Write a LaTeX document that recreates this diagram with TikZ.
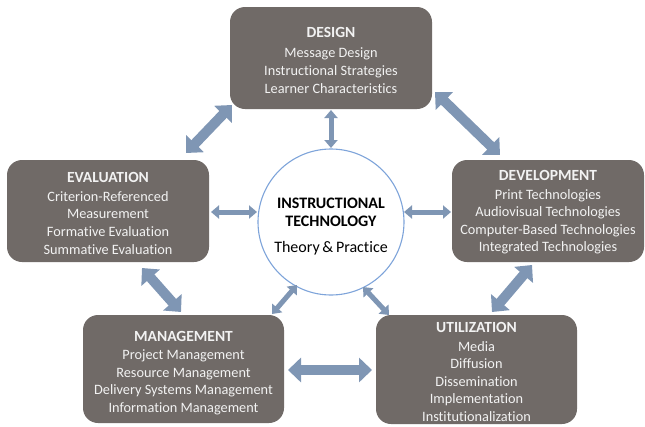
\documentclass[tikz,border=0pt]{standalone}
\usepackage{fontspec}
\setmainfont{Carlito}[Ligatures=NoCommon]
\usetikzlibrary{arrows.meta}
\definecolor{boxgray}{RGB}{112,106,103}
\definecolor{boxtext}{RGB}{242,242,242}
\definecolor{linkblue}{RGB}{127,150,180}
\definecolor{ringblue}{RGB}{126,164,218}
\tikzset{
  area/.style={draw=none, fill=boxgray, rounded corners=15pt, text=boxtext,
    align=center, font=\fontsize{14.3}{17.6}\selectfont, inner sep=0pt},
  bigarrow/.style={draw=linkblue, line width=10pt,
    {Triangle[length=13pt,width=24pt]}-{Triangle[length=13pt,width=24pt]}},
  smallarrow/.style={draw=linkblue, line width=5pt,
    {Triangle[length=8pt,width=13pt]}-{Triangle[length=8pt,width=13pt]}},
}
% heading line; the optional strut height sets the first line's top room
\newcommand{\hd}[2][11.1pt]{\textbf{\fontsize{15.5}{17.6}\selectfont\rule{0pt}{#1}#2}}
\begin{document}
\begin{tikzpicture}[x=1pt,y=-1pt]
\useasboundingbox (0,0) rectangle (645,426);

% domain boxes
\node[area, minimum width=202pt, minimum height=102pt] (design) at (331,58)
  {\hd[15pt]{DESIGN}\\[2.5pt]Message Design\\Instructional Strategies\\Learner Characteristics};
\node[area, minimum width=202pt, minimum height=102pt] (eval) at (108,211)
  {\hd[15pt]{EVALUATION}\\[1pt]Criterion-Referenced\\Measurement\\Formative Evaluation\\Summative Evaluation};
\node[area, minimum width=192pt, minimum height=102pt] (devel) at (548,211)
  {\hd[13pt]{DEVELOPMENT}\\[1pt]Print Technologies\\Audiovisual Technologies\\Computer-Based Technologies\\Integrated Technologies};
\node[area, minimum width=201pt, minimum height=108pt] (mgmt) at (183.5,369)
  {\hd[18pt]{MANAGEMENT}\\[1pt]Project Management\\Resource Management\\Delivery Systems Management\\Information Management};
\node[area, minimum width=201pt, minimum height=109pt] (util) at (476.5,369.5)
  {\hd[15pt]{UTILIZATION}\\[1pt]Media\\Diffusion\\Dissemination\\Implementation\\Institutionalization};

% central field
\node[circle, draw=ringblue, line width=1.1pt, fill=white, minimum size=146pt,
  align=center, inner sep=0pt, font=\fontsize{16}{18}\selectfont] (core) at (331,222)
  {\rule{0pt}{20.5pt}\textbf{INSTRUCTIONAL}\\\textbf{TECHNOLOGY}\\[8pt]Theory\,\&\,Practice};

% arrow end points
\coordinate (de1) at (232,105);  \coordinate (de2) at (186,153);
\coordinate (dd1) at (435,92);   \coordinate (dd2) at (500,155);
\coordinate (em1) at (142,268);  \coordinate (em2) at (181,312);
\coordinate (du1) at (532,265);  \coordinate (du2) at (492,312);
\coordinate (mu1) at (288,370);  \coordinate (mu2) at (372,370);
\coordinate (dc1) at (331,110);  \coordinate (dc2) at (331,148);
\coordinate (ec1) at (211,212);  \coordinate (ec2) at (257,212);
\coordinate (vc1) at (451,212);  \coordinate (vc2) at (404,212);
\coordinate (mc1) at (297,285);  \coordinate (mc2) at (272,314);
\coordinate (uc1) at (363,287);  \coordinate (uc2) at (389,315);

% links between the domains
\draw[bigarrow] (de1) -- (de2);
\draw[bigarrow] (dd1) -- (dd2);
\draw[bigarrow] (em1) -- (em2);
\draw[bigarrow] (du1) -- (du2);
\draw[bigarrow] (mu1) -- (mu2);

% links to the centre
\draw[smallarrow] (dc1) -- (dc2);
\draw[smallarrow] (ec1) -- (ec2);
\draw[smallarrow] (vc1) -- (vc2);
\draw[smallarrow] (mc1) -- (mc2);
\draw[smallarrow] (uc1) -- (uc2);
\end{tikzpicture}
\end{document}
